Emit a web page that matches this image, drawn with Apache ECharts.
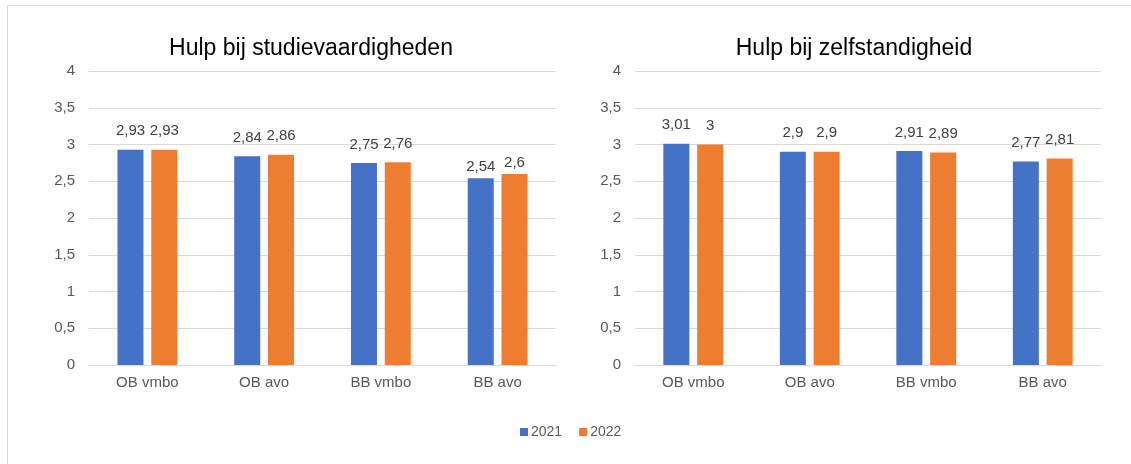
<!DOCTYPE html>
<html>
<head>
<meta charset="utf-8">
<script src="https://cdn.jsdelivr.net/npm/echarts@6/dist/echarts.min.js"></script>
<style>
html,body{margin:0;padding:0;background:#fff;}
#chart{width:1131px;height:464px;}
</style>
</head>
<body>
<div id="chart"></div>
<script>
const categories = ['OB vmbo', 'OB avo', 'BB vmbo', 'BB avo'];
const seriesNames = ['2021', '2022'];
const studie2021 = [2.93, 2.84, 2.75, 2.54];
const studie2022 = [2.93, 2.86, 2.76, 2.6];
const zelf2021 = [3.01, 2.9, 2.91, 2.77];
const zelf2022 = [3, 2.9, 2.89, 2.81];
const titles = ['Hulp bij studievaardigheden', 'Hulp bij zelfstandigheid'];

const FONT = '"Liberation Sans", Arial, sans-serif';
const BLUE = '#4472C4', ORANGE = '#ED7D31';
const fmt = v => String(v).replace('.', ',');

function mkData(arr, closeIdx) {
  return arr.map((v, i) => i === closeIdx ? { value: v, label: { distance: 4 } } : v);
}

function mkSeries(name, data, idx, color, closeIdx) {
  return {
    name: name, type: 'bar', xAxisIndex: idx, yAxisIndex: idx,
    data: mkData(data, closeIdx),
    barWidth: 26, barGap: '30%',
    itemStyle: { color: color },
    label: { show: true, position: 'top', distance: 11, formatter: p => fmt(p.value),
             color: '#404040', fontSize: 15, fontFamily: FONT }
  };
}

const yAxisBase = {
  type: 'value', min: 0, max: 4, interval: 0.5,
  axisLine: { show: false }, axisTick: { show: false },
  axisLabel: { formatter: v => fmt(v), color: '#595959', fontSize: 15, fontFamily: FONT, margin: 14 },
  splitLine: { lineStyle: { color: '#d9d9d9', width: 1 } }
};
const xAxisBase = {
  type: 'category', data: categories,
  axisLine: { lineStyle: { color: '#d9d9d9', width: 1 } },
  axisTick: { show: false },
  axisLabel: { color: '#595959', fontSize: 15, fontFamily: FONT, margin: 10 }
};

const chart = echarts.init(document.getElementById('chart'), null, { renderer: 'canvas' });
chart.setOption({
  animation: false,
  backgroundColor: '#fff',
  graphic: [{
    type: 'rect', silent: true, z: -10,
    shape: { x: 7.5, y: 5.5, width: 1140, height: 480 },
    style: { fill: 'none', stroke: '#d9d9d9', lineWidth: 1 }
  }],
  title: [
    { text: titles[0], left: 311, top: 37, textAlign: 'center', padding: 0,
      textStyle: { fontSize: 23, fontWeight: 'normal', color: '#000', fontFamily: FONT } },
    { text: titles[1], left: 854, top: 37, textAlign: 'center', padding: 0,
      textStyle: { fontSize: 23, fontWeight: 'normal', color: '#000', fontFamily: FONT } }
  ],
  legend: {
    data: seriesNames, left: 520, top: 425, icon: 'rect', itemWidth: 8, itemHeight: 8,
    itemGap: 17, padding: 0,
    textStyle: { color: '#595959', fontSize: 14, fontFamily: FONT, padding: [0, 0, 0, -2] }
  },
  grid: [
    { left: 89, right: 575, top: 71, bottom: 99 },
    { left: 635, right: 30, top: 71, bottom: 99 }
  ],
  xAxis: [Object.assign({ gridIndex: 0 }, xAxisBase), Object.assign({ gridIndex: 1 }, xAxisBase)],
  yAxis: [Object.assign({ gridIndex: 0 }, yAxisBase), Object.assign({ gridIndex: 1 }, yAxisBase)],
  series: [
    mkSeries(seriesNames[0], studie2021, 0, BLUE, 3),
    mkSeries(seriesNames[1], studie2022, 0, ORANGE, 3),
    mkSeries(seriesNames[0], zelf2021, 1, BLUE, -1),
    mkSeries(seriesNames[1], zelf2022, 1, ORANGE, -1)
  ]
});
</script>
</body>
</html>
